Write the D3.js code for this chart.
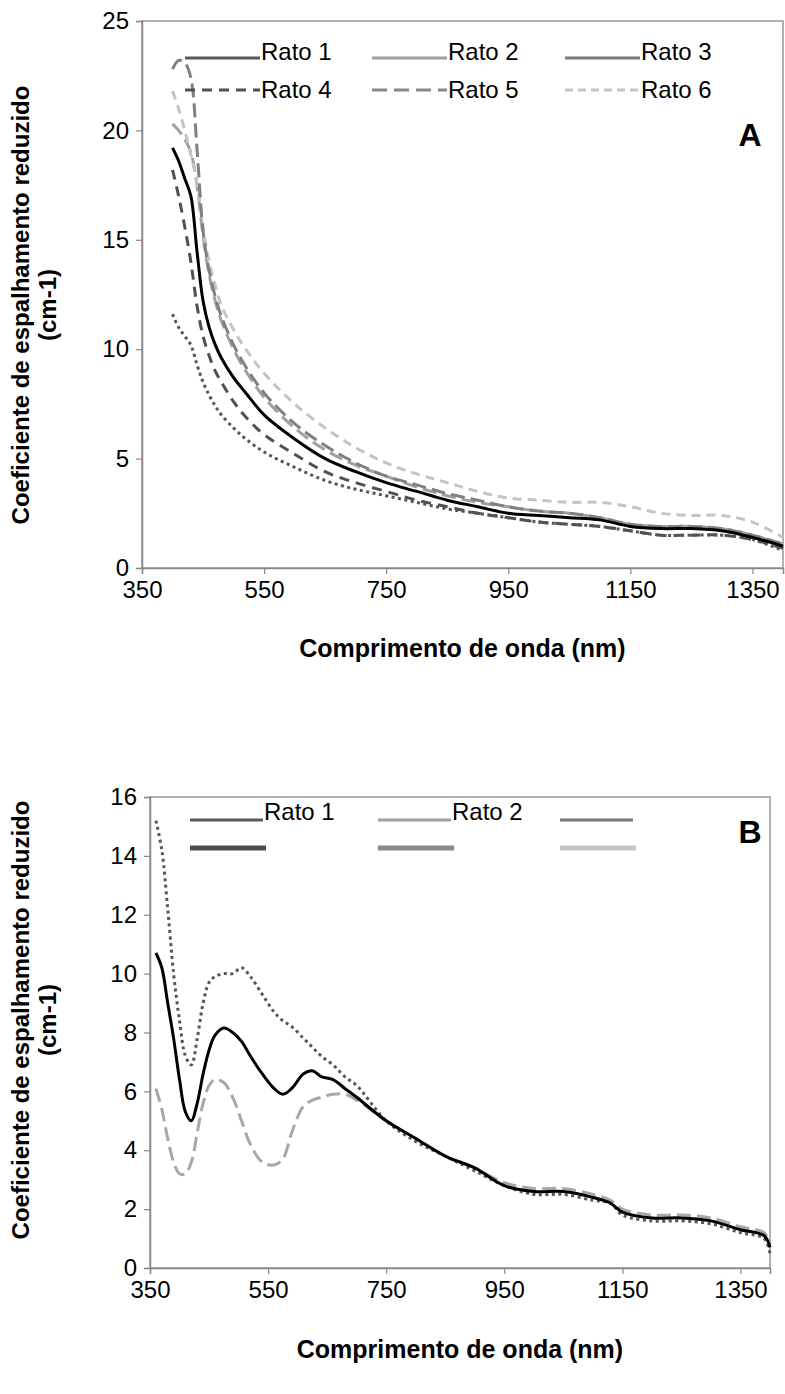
<!DOCTYPE html>
<html>
<head>
<meta charset="utf-8">
<script src="https://cdn.jsdelivr.net/npm/d3@7"></script>
<style>
  body { margin: 0; background: #fff; }
  svg text { font-family: "Liberation Sans", Arial, sans-serif; fill: #000; }
</style>
</head>
<body>
<svg id="fig" width="785" height="1394"></svg>
<script>
// ---- panel A data (wavelength nm -> reduced scattering, cm-1) ----
const nmA = [400, 410, 420, 430, 440, 450, 460, 470, 480, 500, 520, 550, 600, 650, 700, 750, 800, 850, 900, 950, 1000, 1050, 1100, 1150, 1200, 1250, 1300, 1350, 1400];
const rato1A = [19.2, 18.6, 17.8, 17.0, 14.5, 12.2, 11.0, 10.2, 9.6, 8.7, 8.0, 7.0, 5.9, 5.0, 4.4, 3.9, 3.5, 3.1, 2.8, 2.5, 2.4, 2.3, 2.2, 1.9, 1.8, 1.8, 1.7, 1.4, 1.0];
const rato2A = [20.3, 20.0, 19.6, 19.0, 17.5, 15.2, 13.4, 12.2, 11.3, 10.0, 9.0, 7.8, 6.4, 5.4, 4.7, 4.2, 3.7, 3.3, 3.0, 2.8, 2.6, 2.5, 2.3, 2.0, 1.9, 1.9, 1.8, 1.5, 1.1];
const rato3A = [11.6, 11.0, 10.6, 10.2, 9.3, 8.5, 7.9, 7.4, 7.0, 6.4, 5.9, 5.3, 4.6, 4.0, 3.6, 3.3, 3.0, 2.7, 2.5, 2.3, 2.1, 2.0, 1.9, 1.7, 1.5, 1.5, 1.5, 1.3, 0.8];
const rato4A = [18.2, 17.0, 15.6, 14.0, 12.0, 10.6, 9.7, 9.0, 8.5, 7.6, 6.9, 6.1, 5.2, 4.4, 3.9, 3.5, 3.1, 2.8, 2.5, 2.3, 2.1, 2.0, 1.9, 1.7, 1.5, 1.5, 1.5, 1.3, 0.9];
const rato5A = [22.8, 23.2, 23.1, 22.4, 19.2, 15.4, 13.6, 12.4, 11.5, 10.2, 9.2, 8.0, 6.6, 5.6, 4.8, 4.2, 3.8, 3.4, 3.1, 2.8, 2.6, 2.5, 2.3, 2.0, 1.9, 1.9, 1.8, 1.5, 1.1];
const rato6A = [21.8, 21.0, 20.0, 18.9, 17.6, 15.6, 14.0, 12.9, 12.0, 10.9, 10.0, 8.9, 7.5, 6.4, 5.5, 4.8, 4.3, 3.9, 3.5, 3.2, 3.1, 3.0, 3.0, 2.8, 2.5, 2.4, 2.4, 2.1, 1.4];

// ---- panel B data ----
const nmB = [360, 370, 380, 390, 400, 410, 420, 430, 440, 450, 460, 475, 490, 505, 520, 540, 560, 575, 590, 610, 625, 640, 660, 680, 700, 750, 800, 850, 900, 950, 1000, 1050, 1100, 1130, 1150, 1200, 1250, 1300, 1350, 1390, 1400];
const rato1B = [10.7, 10.2, 9.0, 7.8, 6.4, 5.3, 5.0, 5.6, 6.6, 7.4, 7.9, 8.15, 8.0, 7.7, 7.2, 6.6, 6.1, 5.9, 6.1, 6.6, 6.7, 6.5, 6.4, 6.1, 5.8, 5.0, 4.4, 3.8, 3.4, 2.8, 2.6, 2.6, 2.4, 2.2, 1.9, 1.7, 1.7, 1.6, 1.3, 1.1, 0.7];
const rato2B = [15.2, 14.2, 12.2, 10.0, 8.4, 7.2, 6.9, 7.8, 9.0, 9.7, 9.9, 10.0, 10.0, 10.2, 9.9, 9.3, 8.7, 8.4, 8.2, 7.8, 7.5, 7.2, 6.9, 6.5, 6.2, 5.0, 4.3, 3.8, 3.3, 2.8, 2.5, 2.5, 2.3, 2.2, 1.8, 1.6, 1.6, 1.5, 1.2, 1.0, 0.5];
const rato3B = [6.1, 5.4, 4.4, 3.6, 3.2, 3.2, 3.6, 4.6, 5.6, 6.2, 6.4, 6.3, 5.8, 5.0, 4.2, 3.6, 3.5, 3.7, 4.6, 5.5, 5.7, 5.8, 5.9, 5.9, 5.7, 5.0, 4.4, 3.8, 3.4, 2.9, 2.7, 2.7, 2.5, 2.3, 2.0, 1.8, 1.8, 1.7, 1.4, 1.2, 0.8];

const xTicks = [350, 550, 750, 950, 1150, 1350];
const yTicksA = [0, 5, 10, 15, 20, 25];
const yTicksB = [0, 2, 4, 6, 8, 10, 12, 14, 16];
const legendNamesA = ["Rato 1", "Rato 2", "Rato 3", "Rato 4", "Rato 5", "Rato 6"];
const legendNamesB = ["Rato 1", "Rato 2", "", "", "", ""];

const FS = 24;
const svg = d3.select("#fig");

function drawPanel(cfg) {
  const x = d3.scaleLinear().domain([350, 1400]).range([cfg.left, cfg.right]);
  const y = d3.scaleLinear().domain([0, cfg.yMax]).range([cfg.bottom, cfg.top]);
  const g = svg.append("g");

  // plot frame (top / right) in light gray
  g.append("rect")
    .attr("x", cfg.left).attr("y", cfg.top)
    .attr("width", cfg.right - cfg.left).attr("height", cfg.bottom - cfg.top)
    .attr("fill", "none").attr("stroke", "#999").attr("stroke-width", 1.5);

  const xAxis = g.append("g")
    .attr("transform", `translate(0,${cfg.bottom})`)
    .call(d3.axisBottom(x).tickValues(xTicks).tickSize(6).tickPadding(7).tickFormat(d3.format("d")));
  const yAxis = g.append("g")
    .attr("transform", `translate(${cfg.left},0)`)
    .call(d3.axisLeft(y).tickValues(cfg.yTicks).tickSize(6).tickPadding(7));
  [xAxis, yAxis].forEach(a => {
    a.select(".domain").attr("stroke", "#888").attr("stroke-width", 1.5);
    a.selectAll(".tick line").attr("stroke", "#888").attr("stroke-width", 1.2);
    a.selectAll("text").attr("font-size", FS).attr("fill", "#000")
      .attr("font-family", "Liberation Sans, Arial, sans-serif");
  });

  const line = d3.line()
    .x(d => x(d[0])).y(d => y(d[1]))
    .curve(d3.curveCatmullRom.alpha(0.5));

  cfg.series.forEach(s => {
    g.append("path")
      .datum(cfg.nm.map((n, i) => [n, s.values[i]]))
      .attr("d", line)
      .attr("fill", "none")
      .attr("stroke", s.color)
      .attr("stroke-width", s.width)
      .attr("stroke-dasharray", s.dash || null);
  });

  // legend
  cfg.legend.forEach((l, i) => {
    const col = i % 3, row = Math.floor(i / 3);
    const lx = cfg.legX[col];
    const ly = cfg.legY[row];
    g.append("line")
      .attr("x1", lx).attr("x2", lx + l.len)
      .attr("y1", ly + l.dy).attr("y2", ly + l.dy)
      .attr("stroke", l.color).attr("stroke-width", l.width)
      .attr("stroke-dasharray", l.dash || null);
    if (l.name) {
      g.append("text")
        .attr("x", lx + l.len + 1).attr("y", ly)
        .attr("dy", "0.35em")
        .attr("font-size", FS)
        .text(l.name);
    }
  });

  g.append("text")
    .attr("x", cfg.letterX).attr("y", cfg.letterY)
    .attr("font-size", 32).attr("font-weight", "bold")
    .attr("text-anchor", "middle").attr("dy", "0.35em")
    .text(cfg.letter);

  // axis titles
  const yt = g.append("text")
    .attr("transform", `translate(${cfg.yTitleX},${cfg.yTitleMid}) rotate(-90)`)
    .attr("text-anchor", "middle")
    .attr("font-size", FS).attr("font-weight", "bold");
  yt.append("tspan").attr("x", 0).attr("dy", 0).text("Coeficiente de espalhamento reduzido");
  yt.append("tspan").attr("x", 0).attr("dy", 27).text("(cm-1)");

  g.append("text")
    .attr("x", (cfg.left + cfg.right) / 2).attr("y", cfg.xTitleY)
    .attr("text-anchor", "middle")
    .attr("font-size", 25).attr("font-weight", "bold")
    .text("Comprimento de onda (nm)");
}

drawPanel({
  left: 142, right: 783, top: 21, bottom: 568, yMax: 25, yTicks: yTicksA,
  nm: nmA,
  series: [
    { values: rato2A, color: "#a0a0a0", width: 3, dash: "14,6" },
    { values: rato6A, color: "#c4c4c4", width: 3, dash: "9,6" },
    { values: rato5A, color: "#808080", width: 3, dash: "14,6" },
    { values: rato4A, color: "#505050", width: 3, dash: "10,7" },
    { values: rato3A, color: "#555", width: 3, dash: "3,3.5" },
    { values: rato1A, color: "#000", width: 3 }
  ],
  legend: [
    { name: legendNamesA[0], color: "#5a5a5a", width: 3, len: 75, dy: 6 },
    { name: legendNamesA[1], color: "#a0a0a0", width: 3, len: 75, dy: 6 },
    { name: legendNamesA[2], color: "#7a7a7a", width: 3, len: 75, dy: 6 },
    { name: legendNamesA[3], color: "#505050", width: 3, len: 75, dy: 0, dash: "10,7" },
    { name: legendNamesA[4], color: "#888", width: 3, len: 75, dy: 0, dash: "15,7" },
    { name: legendNamesA[5], color: "#c4c4c4", width: 3, len: 75, dy: 0, dash: "8,5" }
  ],
  legX: [185, 372, 565], legY: [52, 90],
  letter: "A", letterX: 750, letterY: 135,
  yTitleX: 29, yTitleMid: 305, xTitleY: 657
});

drawPanel({
  left: 150, right: 770, top: 797, bottom: 1268, yMax: 16, yTicks: yTicksB,
  nm: nmB,
  series: [
    { values: rato3B, color: "#a8a8a8", width: 3, dash: "14,6" },
    { values: rato2B, color: "#555", width: 3, dash: "3,3.5" },
    { values: rato1B, color: "#000", width: 3 }
  ],
  legend: [
    { name: legendNamesB[0], color: "#5a5a5a", width: 3, len: 73, dy: 8 },
    { name: legendNamesB[1], color: "#a0a0a0", width: 3, len: 73, dy: 8 },
    { name: legendNamesB[2], color: "#7a7a7a", width: 3, len: 73, dy: 8 },
    { name: legendNamesB[3], color: "#4a4a4a", width: 5, len: 76, dy: 0 },
    { name: legendNamesB[4], color: "#888", width: 5, len: 76, dy: 0 },
    { name: legendNamesB[5], color: "#c4c4c4", width: 5, len: 76, dy: 0 }
  ],
  legX: [190, 378, 560], legY: [812, 848],
  letter: "B", letterX: 750, letterY: 832,
  yTitleX: 29, yTitleMid: 1020, xTitleY: 1358
});
</script>
</body>
</html>
